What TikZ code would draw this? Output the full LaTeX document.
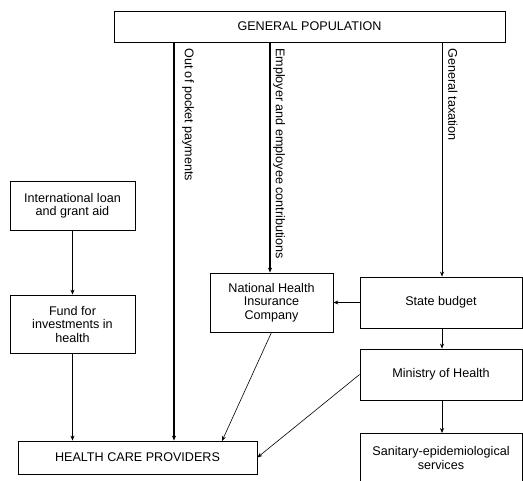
\documentclass[tikz,border=0pt]{standalone}
\usepackage{fontspec}
\setmainfont{Liberation Sans}
\usetikzlibrary{arrows.meta}
\begin{document}
\begin{tikzpicture}[x=1pt,y=-1pt,
  box/.style={draw, line width=0.8pt, align=center, font=\fontsize{12.6}{13.5}\selectfont, inner sep=0pt},
  arr/.style={-{Stealth[length=5pt,width=4pt]}, line width=0.6pt},
  thick arr/.style={-{Stealth[length=5pt,width=4pt]}, line width=1.2pt},
  lbl/.style={font=\fontsize{12.6}{13.5}\selectfont, rotate=-90, anchor=south west, inner sep=0pt}]
\useasboundingbox (0,0) rectangle (523,481);
\node[box, minimum width=391pt, minimum height=31pt] (gp) at (309.5,26.5) {GENERAL POPULATION};
\node[box, minimum width=239pt, minimum height=33pt] (hcp) at (137.5,457.5) {HEALTH CARE PROVIDERS};
\node[box, minimum width=125pt, minimum height=49pt] (intl) at (72.5,205.5) {International loan\\and grant aid};
\node[box, minimum width=125pt, minimum height=58pt] (fund) at (72.5,324) {Fund for\\investments in\\health};
\node[box, minimum width=123pt, minimum height=59pt] (nhic) at (271.5,302.5) {National Health\\Insurance\\Company};
\node[box, minimum width=162pt, minimum height=51pt] (sb) at (441,302.5) {State budget};
\node[box, minimum width=162pt, minimum height=51pt] (moh) at (441,374.5) {Ministry of Health};
\node[box, minimum width=162pt, minimum height=60pt, anchor=north] (san) at (441,433) {};
\node[font=\fontsize{12.6}{13.5}\selectfont, align=center] (santxt) at (441,458) {Sanitary-epidemiological\\services};
% flows from population
\coordinate (oop) at (174,42);
\coordinate (emp) at (270,42);
\coordinate (tax) at (442,42);
\coordinate (hcpin) at (222,441);
\draw[thick arr] (oop) -- (oop |- hcp.north);
\draw[thick arr] (emp) -- (emp |- nhic.north);
\draw[arr] (tax) -- (tax |- sb.north);
\node[lbl] (l1) at (182,48) {Out of pocket payments};
\node[lbl] (l2) at (273,48) {Employer and employee contributions};
\node[lbl] (l3) at (448,48) {General taxation};
% left chain
\draw[arr] (intl) -- (fund);
\draw[arr] (fund) -- (fund.south |- hcp.north);
% right chain
\draw[arr] (sb.west) -- (nhic.east |- sb.west);
\draw[arr] (sb.south -| tax) -- (moh.north -| tax);
\draw[arr] (moh.south -| tax) -- (san.north -| tax);
% to providers
\draw[arr] (nhic.south) -- (hcpin);
\draw[arr] (moh.west) -- (hcp.east);
\end{tikzpicture}
\end{document}
